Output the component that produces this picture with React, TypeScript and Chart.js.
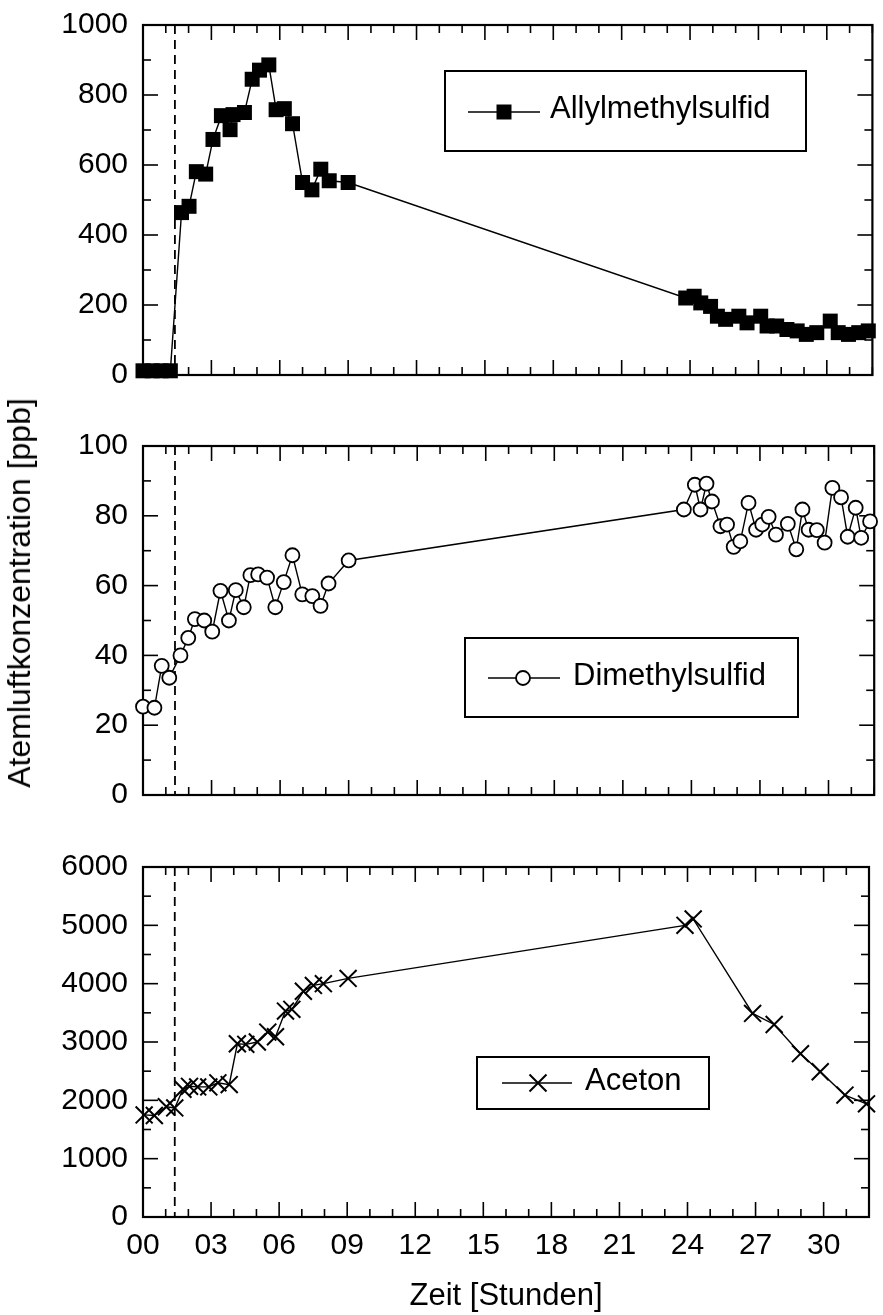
import React, { useEffect, useRef } from 'react';
import { Chart, registerables } from 'chart.js';

Chart.register(...registerables);

// ---------- data ----------
const hourTickLabels = [0, 3, 6, 9, 12, 15, 18, 21, 24, 27, 30];
const hourMin = 0;
const hourMax = 32;
const exposureStartHour = 1.4;

const allylLabel = 'Allylmethylsulfid';
const allylHours = [0, 0.4, 0.8, 1.2, 1.69, 2.02, 2.34, 2.75, 3.07, 3.44, 3.82, 3.95, 4.45, 4.79, 5.11, 5.52, 5.84, 6.2, 6.56, 7.0, 7.41, 7.8, 8.17, 9.0, 23.81, 24.18, 24.47, 24.9, 25.2, 25.56, 26.14, 26.5, 27.1, 27.38, 27.8, 28.25, 28.7, 29.1, 29.56, 30.15, 30.5, 30.95, 31.4, 31.82];
const allylValues = [12, 12, 12, 12, 464, 482, 581, 574, 673, 741, 701, 744, 750, 845, 871, 886, 758, 761, 718, 550, 529, 588, 555, 550, 220, 225, 206, 196, 168, 159, 168, 149, 168, 140, 140, 130, 126, 116, 121, 154, 121, 116, 121, 126];

const dmsLabel = 'Dimethylsulfid';
const dmsHours = [0, 0.5, 0.82, 1.15, 1.64, 1.98, 2.27, 2.68, 3.03, 3.39, 3.76, 4.06, 4.41, 4.7, 5.04, 5.43, 5.79, 6.16, 6.54, 6.97, 7.41, 7.77, 8.12, 9.0, 23.67, 24.15, 24.4, 24.66, 24.9, 25.27, 25.56, 25.85, 26.14, 26.5, 26.83, 27.1, 27.38, 27.7, 28.22, 28.59, 28.86, 29.13, 29.49, 29.83, 30.17, 30.55, 30.84, 31.19, 31.43, 31.82];
const dmsValues = [25.3, 25, 37, 33.6, 40, 45, 50.4, 50, 46.8, 58.5, 50, 58.7, 53.8, 63, 63.2, 62.3, 53.8, 61, 68.7, 57.5, 57, 54.2, 60.6, 67.2, 81.8, 88.9, 81.8, 89.2, 84.1, 77, 77.5, 71.1, 72.7, 83.7, 76, 77.5, 79.7, 74.6, 77.7, 70.4, 81.8, 76, 75.9, 72.3, 88, 85.3, 74, 82.3, 73.7, 78.4];

const acetonLabel = 'Aceton';
const acetonHours = [0.05, 0.5, 1.03, 1.4, 1.76, 2.05, 2.41, 2.9, 3.3, 3.8, 4.16, 4.53, 5.04, 5.5, 5.84, 6.28, 6.56, 7.07, 7.51, 7.95, 9.04, 23.89, 24.25, 26.87, 27.82, 28.98, 29.85, 30.94, 31.89];
const acetonValues = [1750, 1740, 1890, 1870, 2190, 2240, 2230, 2230, 2300, 2270, 2970, 2960, 3000, 3170, 3090, 3530, 3560, 3870, 3970, 4000, 4090, 5000, 5110, 3490, 3300, 2800, 2490, 2090, 1940];

const yTitle = 'Atemluftkonzentration [ppb]';
const xTitle = 'Zeit [Stunden]';

// ---------- style ----------
const FONT = '"Liberation Sans", Arial, Helvetica, sans-serif';
const TICK_SIZE = 30;
const TITLE_SIZE = 31;
const LEGEND_SIZE = 31;

type Marker = 'rect' | 'circle' | 'crossRot';

interface LegendBox {
  x0: number; y0: number; x1: number; y1: number;
  lineX0: number; lineX1: number; markerX: number; lineY: number;
  textX: number; textBaseline: number;
}

interface Panel {
  top: number; height: number; padTop: number; xAxisHeight: number;
  yMax: number; yMajor: number; yMinor: number;
  hours: number[]; values: number[]; label: string;
  marker: Marker; radius: number; fill: string; borderWidth: number;
  legend: LegendBox; showX: boolean;
}

const panels: Panel[] = [
  {
    top: 0, height: 400, padTop: 23, xAxisHeight: 24,
    yMax: 1000, yMajor: 200, yMinor: 100,
    hours: allylHours, values: allylValues, label: allylLabel,
    marker: 'rect', radius: 10.6, fill: '#000', borderWidth: 0,
    legend: { x0: 445, y0: 71, x1: 806, y1: 151, lineX0: 468, lineX1: 540, markerX: 504, lineY: 112, textX: 550, textBaseline: 118 },
    showX: false,
  },
  {
    top: 400, height: 420, padTop: 46, xAxisHeight: 23,
    yMax: 100, yMajor: 20, yMinor: 10,
    hours: dmsHours, values: dmsValues, label: dmsLabel,
    marker: 'circle', radius: 7, fill: '#fff', borderWidth: 1.8,
    legend: { x0: 465, y0: 238, x1: 798, y1: 317, lineX0: 488, lineX1: 560, markerX: 523, lineY: 278, textX: 573, textBaseline: 285 },
    showX: false,
  },
  {
    top: 820, height: 495, padTop: 47, xAxisHeight: 98,
    yMax: 6000, yMajor: 1000, yMinor: 500,
    hours: acetonHours, values: acetonValues, label: acetonLabel,
    marker: 'crossRot', radius: 12, fill: '#000', borderWidth: 2,
    legend: { x0: 477, y0: 237, x1: 709, y1: 289, lineX0: 502, lineX1: 572, markerX: 538, lineY: 263, textX: 585, textBaseline: 270 },
    showX: true,
  },
];

function drawMarker(ctx: CanvasRenderingContext2D, m: Marker, x: number, y: number, r: number, fill: string, bw: number) {
  ctx.save();
  ctx.setLineDash([]);
  ctx.strokeStyle = '#000';
  ctx.fillStyle = fill;
  ctx.lineWidth = bw;
  ctx.beginPath();
  if (m === 'rect') {
    const s = Math.SQRT1_2 * r;
    ctx.rect(x - s, y - s, 2 * s, 2 * s);
    ctx.fill();
  } else if (m === 'circle') {
    ctx.arc(x, y, r, 0, Math.PI * 2);
    ctx.fill();
    ctx.stroke();
  } else {
    const d = Math.SQRT1_2 * r;
    ctx.moveTo(x - d, y - d); ctx.lineTo(x + d, y + d);
    ctx.moveTo(x - d, y + d); ctx.lineTo(x + d, y - d);
    ctx.stroke();
  }
  ctx.restore();
}

function makeFramePlugin(p: Panel) {
  return {
    id: 'panelFrame',
    beforeDatasetsDraw(chart: any) {
      const { ctx, chartArea: a, scales } = chart;
      const xs = scales.x, ys = scales.y;
      ctx.save();
      ctx.strokeStyle = '#000';
      const seg = (x0: number, y0: number, x1: number, y1: number) => {
        ctx.beginPath(); ctx.moveTo(x0, y0); ctx.lineTo(x1, y1); ctx.stroke();
      };
      ctx.lineWidth = 1.6;
      for (let h = hourMin; h <= hourMax; h += 1) {
        const px = xs.getPixelForValue(h);
        const len = h % 3 === 0 ? 15 : 8;
        seg(px, a.bottom, px, a.bottom - len);
        seg(px, a.top, px, a.top + len);
      }
      for (let v = 0; v <= p.yMax; v += p.yMinor) {
        const py = ys.getPixelForValue(v);
        const len = v % p.yMajor === 0 ? 15 : 8;
        seg(a.left, py, a.left + len, py);
        seg(a.right, py, a.right - len, py);
      }
      ctx.lineWidth = 2.2;
      ctx.strokeRect(a.left, a.top, a.right - a.left, a.bottom - a.top);
      ctx.lineWidth = 1.8;
      ctx.setLineDash([9, 6]);
      const dx = xs.getPixelForValue(exposureStartHour);
      seg(dx, a.top, dx, a.bottom);
      ctx.restore();
    },
    afterDatasetsDraw(chart: any) {
      const { ctx } = chart;
      const L = p.legend;
      ctx.save();
      ctx.fillStyle = '#fff';
      ctx.fillRect(L.x0, L.y0, L.x1 - L.x0, L.y1 - L.y0);
      ctx.strokeStyle = '#000';
      ctx.lineWidth = 2;
      ctx.strokeRect(L.x0, L.y0, L.x1 - L.x0, L.y1 - L.y0);
      ctx.lineWidth = 1.4;
      ctx.beginPath(); ctx.moveTo(L.lineX0, L.lineY); ctx.lineTo(L.lineX1, L.lineY); ctx.stroke();
      drawMarker(ctx, p.marker, L.markerX, L.lineY, p.radius, p.fill, p.borderWidth);
      ctx.fillStyle = '#000';
      ctx.font = `${LEGEND_SIZE}px ${FONT}`;
      ctx.textBaseline = 'alphabetic';
      ctx.textAlign = 'left';
      ctx.fillText(p.label, L.textX, L.textBaseline);
      ctx.restore();
    },
  };
}

function PanelChart({ p }: { p: Panel }) {
  const ref = useRef<HTMLCanvasElement | null>(null);
  useEffect(() => {
    if (!ref.current) return;
    const chart = new Chart(ref.current, {
      type: 'line',
      data: {
        datasets: [{
          label: p.label,
          data: p.hours.map((h, i) => ({ x: h, y: p.values[i] })),
          borderColor: '#000',
          borderWidth: 1.4,
          tension: 0,
          pointStyle: p.marker,
          pointRadius: p.radius,
          pointHoverRadius: p.radius,
          pointBackgroundColor: p.fill,
          pointBorderColor: '#000',
          pointBorderWidth: p.borderWidth,
          clip: false,
        } as any],
      },
      options: {
        animation: false,
        responsive: false,
        events: [],
        layout: { padding: { top: p.padTop, left: 0, right: 6, bottom: 0 } },
        plugins: { legend: { display: false }, tooltip: { enabled: false } },
        scales: {
          x: {
            type: 'linear',
            min: hourMin,
            max: hourMax,
            grid: { display: false },
            border: { display: false },
            afterBuildTicks: (s: any) => { s.ticks = hourTickLabels.map((v) => ({ value: v })); },
            afterFit: (s: any) => { s.height = p.xAxisHeight; },
            ticks: {
              display: p.showX,
              autoSkip: false,
              maxRotation: 0,
              padding: 3,
              color: '#000',
              font: { family: FONT, size: TICK_SIZE },
              callback: (v: any) => String(v).padStart(2, '0'),
            },
            title: {
              display: p.showX,
              text: xTitle,
              color: '#000',
              padding: 0,
              font: { family: FONT, size: TITLE_SIZE },
            },
          },
          y: {
            type: 'linear',
            min: 0,
            max: p.yMax,
            grid: { display: false },
            border: { display: false },
            afterFit: (s: any) => { s.width = 143; },
            ticks: {
              stepSize: p.yMajor,
              padding: 7,
              color: '#000',
              font: { family: FONT, size: TICK_SIZE },
              callback: (v: any) => String(v),
            },
          },
        },
      } as any,
      plugins: [makeFramePlugin(p)],
    });
    return () => chart.destroy();
  }, [p]);
  return (
    <canvas
      ref={ref}
      width={883}
      height={p.height}
      style={{ position: 'absolute', left: 0, top: p.top, width: 883, height: p.height }}
    />
  );
}

export default function App() {
  return (
    <div style={{ position: 'absolute', left: 0, top: 0, width: 883, height: 1315, background: '#fff', overflow: 'hidden' }}>
      {panels.map((p, i) => <PanelChart key={i} p={p} />)}
      <div
        style={{
          position: 'absolute',
          left: 19,
          top: 593,
          transform: 'translate(-50%, -50%) rotate(-90deg)',
          whiteSpace: 'nowrap',
          fontFamily: FONT,
          fontSize: 32,
          color: '#000',
          lineHeight: 1,
        }}
      >
        {yTitle}
      </div>
    </div>
  );
}
